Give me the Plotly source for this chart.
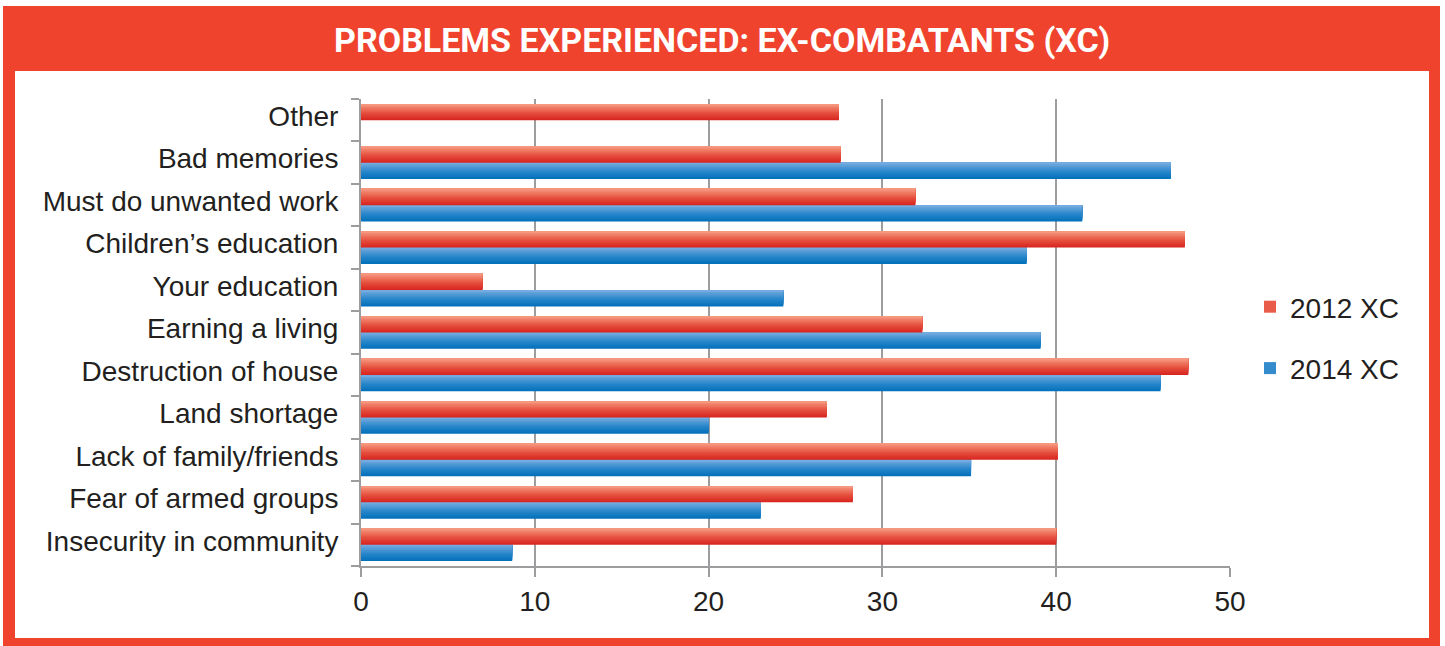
import plotly.graph_objects as go

categories = ["Insecurity in community", "Fear of armed groups", "Lack of family/friends",
              "Land shortage", "Destruction of house", "Earning a living", "Your education",
              "Children\u2019s education", "Must do unwanted work", "Bad memories", "Other"]
xc_2012 = [40.0, 28.3, 40.1, 26.8, 47.6, 32.3, 7.0, 47.4, 31.9, 27.6, 27.5]
xc_2014 = [8.7, 23.0, 35.1, 20.0, 46.0, 39.1, 24.3, 38.3, 41.5, 46.6, None]
series_names = ["2012 XC", "2014 XC"]
x_ticks = [0, 10, 20, 30, 40, 50]
title_text = "PROBLEMS EXPERIENCED: EX-COMBATANTS (XC)"

W, H = 1445, 646
ML, MR, MT, MB = 361, 215, 99, 80
PW, PH = W - ML - MR, H - MT - MB

def px(x):
    return (x - ML) / PW

def py(y):
    return 1 - (y - MT) / PH

RED = "#EF432E"
TXT = "#231F20"
GRID = "#9D9D9F"
FONT = "Liberation Sans"

# gradient stops (bottom -> top)
RED_STOPS = [(0.0, (215, 36, 30)), (0.45, (230, 80, 62)), (1.0, (246, 156, 130))]
BLUE_STOPS = [(0.0, (0, 112, 186)), (0.45, (40, 134, 202)), (1.0, (120, 172, 224))]

def interp(stops, t):
    for (t0, c0), (t1, c1) in zip(stops[:-1], stops[1:]):
        if t <= t1:
            f = (t - t0) / (t1 - t0) if t1 > t0 else 0
            return "rgb(%d,%d,%d)" % tuple(round(a + (b - a) * f) for a, b in zip(c0, c1))
    return "rgb(%d,%d,%d)" % stops[-1][1]

N = 14
BAR_H = 0.385
fig = go.Figure()

def add_series(values, name, stops, base, group, rank):
    for k in range(N):
        t = (k + 0.5) / N
        fig.add_trace(go.Bar(
            y=categories, x=values, orientation="h", name=name,
            base=0, offset=base + k * BAR_H / N, width=BAR_H * (N - k) / N,
            marker=dict(color=interp(stops, t), line=dict(width=0)),
            legendgroup=group, legendrank=rank, showlegend=(k == N // 2),
            hoverinfo="skip" if k else "x+y"))

add_series(xc_2014, series_names[1], BLUE_STOPS, -BAR_H, "b", 2)
add_series(xc_2012, series_names[0], RED_STOPS, 0.0, "a", 1)

shapes = [
    dict(type="rect", xref="paper", yref="paper", x0=px(3), x1=px(1440), y0=py(646), y1=py(6),
         fillcolor=RED, line_width=0, layer="below"),
    dict(type="rect", xref="paper", yref="paper", x0=px(15), x1=px(1429), y0=py(638), y1=py(71),
         fillcolor="white", line_width=0, layer="below"),
]

fig.update_layout(
    width=W, height=H,
    margin=dict(l=ML, r=MR, t=MT, b=MB, pad=0),
    paper_bgcolor="white", plot_bgcolor="rgba(0,0,0,0)",
    barmode="overlay",
    font=dict(family=FONT, size=28, color=TXT),
    shapes=shapes,
    showlegend=True,
    legend=dict(x=px(1250), y=py(282), xanchor="left", yanchor="top",
                traceorder="grouped", tracegroupgap=22,
                font=dict(family=FONT, size=28, color=TXT),
                bgcolor="rgba(0,0,0,0)", itemwidth=30),
    annotations=[dict(text=title_text, xref="paper", yref="paper",
                      x=px(722), y=py(40), xanchor="center", yanchor="middle",
                      showarrow=False,
                      font=dict(family="Roboto", size=34, color="white", weight="bold"))],
    xaxis=dict(range=[0, 50], tickvals=x_ticks, showgrid=True, gridcolor=GRID, gridwidth=2,
               zeroline=False, showline=True, linecolor=GRID, linewidth=2,
               ticks="outside", ticklen=9, tickwidth=2, tickcolor=GRID,
               tickfont=dict(family=FONT, size=28, color=TXT)),
    yaxis=dict(type="category", categoryorder="array", categoryarray=categories,
               range=[-0.5, len(categories) - 0.5],
               showgrid=False, zeroline=False, showline=True, linecolor=GRID, linewidth=2,
               ticks="outside", ticklen=8, tickwidth=2, tickcolor=GRID, tickson="boundaries",
               ticklabelstandoff=15, ticklabelshift=-4,
               tickfont=dict(family=FONT, size=28, color=TXT)),
)

fig.write_html("out.html")
